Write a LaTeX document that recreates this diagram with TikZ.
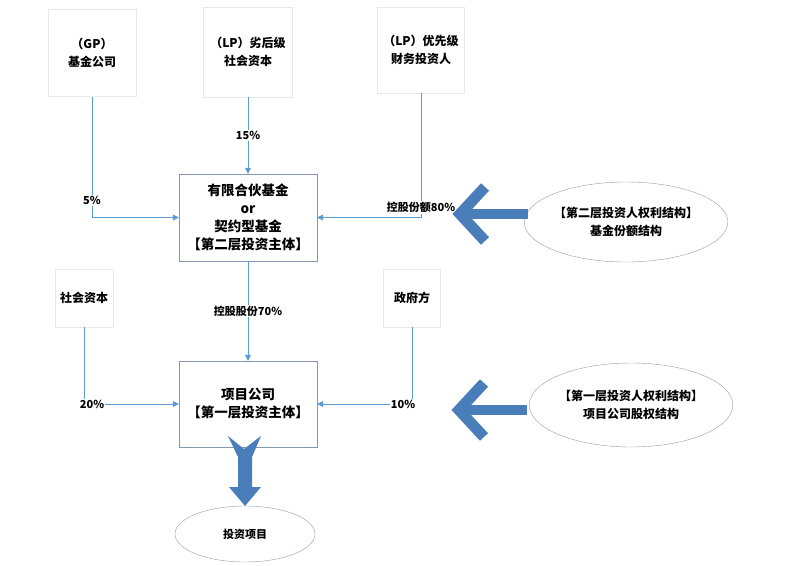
\documentclass[tikz,border=0pt]{standalone}
\usepackage{fontspec}
\setmainfont{Noto Sans CJK SC}
\usetikzlibrary{arrows.meta,shapes.geometric}
\definecolor{lineblue}{HTML}{5B9BD5}
\definecolor{bigblue}{HTML}{4A7EBB}
\definecolor{boxline}{HTML}{8497B0}
\definecolor{ellline}{HTML}{8C9DB8}
\tikzset{
  src/.style={draw=black!9,fill=white,align=center,inner sep=0pt,font=\bfseries\fontsize{12}{18}\selectfont},
  mainbox/.style={draw=boxline,fill=white,align=center,minimum width=138,font=\bfseries\fontsize{13.5}{18}\selectfont},
  oval/.style={draw=ellline,ellipse,align=center,inner sep=0pt,font=\bfseries\fontsize{12}{18}\selectfont},
  link/.style={draw=lineblue,line width=0.8,-{Triangle[length=6,width=6]}},
  lbl/.style={fill=white,inner sep=1pt,font=\bfseries\fontsize{11}{13}\selectfont},
  bigarrow/.style={draw=bigblue,line width=11,line join=miter}
}
\begin{document}
\begin{tikzpicture}[x=1pt,y=-1pt]
\useasboundingbox (0,0) rectangle (800,565);

\node[src,minimum width=88,minimum height=87] (gp) at (92,53) {（GP）\\基金公司};
\node[src,minimum width=89,minimum height=90] (lpb) at (248,52) {（LP）劣后级\\社会资本};
\node[src,minimum width=87,minimum height=86] (lpa) at (421,50) {（LP）优先级\\财务投资人};
\node[mainbox,minimum height=87] (fund) at (248,217.5) {有限合伙基金\\or\\契约型基金\\【第二层投资主体】};

\node[src,minimum width=58,minimum height=58] (soc) at (84,298) {社会资本};
\node[src,minimum width=57,minimum height=58] (gov) at (412,298) {政府方};
\node[mainbox,minimum height=86] (proj) at (248,404) {项目公司\\【第一层投资主体】};

\node[oval,minimum width=182,minimum height=80] (e2) at (626,222) {【第二层投资人权利结构】\\基金份额结构};
\node[oval,minimum width=193,minimum height=84] (e1) at (631,405) {【第一层投资人权利结构】\\项目公司股权结构};
\node[oval,minimum width=140,minimum height=56,font=\bfseries\fontsize{11}{13}\selectfont] (inv) at (245,534) {投资项目};

\draw[link] (gp) |- (fund.west) node[lbl,pos=0.43] (l5) {5\%};
\draw[link] (lpb) -- (fund) node[lbl,pos=0.5] (l15) {15\%};
\draw[link] (lpa) |- (fund.east) node[lbl,pos=0.46] (l80) {控股份额80\%};
\draw[link] (fund) -- (proj) node[lbl,pos=0.5] (l70) {控股股份70\%};
\draw[link] (soc) |- (proj.west) node[lbl,pos=0.5,xshift=8] (l20) {20\%};
\draw[link] (gov) |- (proj.east) node[lbl,pos=0.5,xshift=-9] (l10) {10\%};

\draw[bigarrow] (485,187) -- (460,214) -- (485,241);
\draw[bigarrow,line width=10] (463,214) -- (528,214);
\draw[bigarrow] (484,383) -- (459,410) -- (484,437);
\draw[bigarrow,line width=10] (462,410) -- (527,410);

\fill[bigblue] (228,436) -- (244,449) -- (261,436) -- (252,457) -- (252,487) -- (261,487)
  -- (245,506) -- (229,487) -- (238,487) -- (238,457) -- cycle;

\end{tikzpicture}
\end{document}
